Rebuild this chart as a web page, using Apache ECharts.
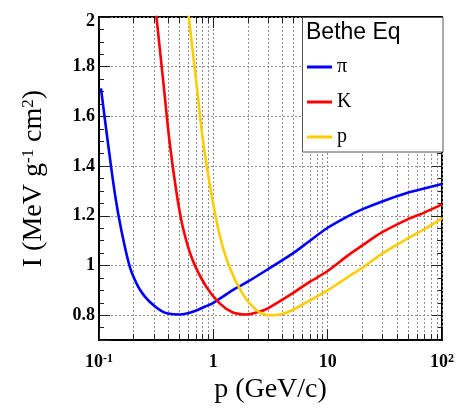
<!DOCTYPE html>
<html>
<head>
<meta charset="utf-8">
<script src="https://cdn.jsdelivr.net/npm/echarts@6/dist/echarts.min.js"></script>
<style>
  html, body { margin: 0; padding: 0; background: #fff; }
  #chart { width: 457px; height: 409px; }
</style>
</head>
<body>
<div id="chart"></div>
<script>
// Mean energy loss I (MeV g^-1 cm^2) versus momentum p (GeV/c)
const pionP = [0.104, 0.12, 0.138, 0.157, 0.186, 0.22, 0.25, 0.3, 0.35, 0.4, 0.5, 0.6, 0.7, 0.85, 1, 1.5, 2, 3, 5, 7, 10, 15, 20, 30, 50, 70, 100];
const pionI = [1.713, 1.49, 1.286, 1.141, 0.995, 0.915, 0.877, 0.84, 0.818, 0.807, 0.803, 0.808, 0.818, 0.835, 0.85, 0.903, 0.935, 0.985, 1.05, 1.10, 1.152, 1.198, 1.226, 1.258, 1.293, 1.31, 1.328];

const kaonP = [0.3, 0.318, 0.362, 0.414, 0.474, 0.541, 0.66, 0.866, 1.13, 1.47, 1.93, 2.5, 3, 5, 7, 10, 15, 20, 30, 50, 70, 100];
const kaonI = [2.11, 2.0, 1.755, 1.499, 1.30, 1.154, 1.021, 0.915, 0.849, 0.812, 0.803, 0.814, 0.828, 0.89, 0.935, 0.978, 1.04, 1.08, 1.134, 1.186, 1.213, 1.246];

const protonP = [0.58, 0.61, 0.707, 0.808, 0.952, 1.13, 1.38, 1.79, 2.35, 3.07, 4, 5, 7, 10, 15, 20, 30, 50, 70, 100];
const protonI = [2.09, 2.0, 1.745, 1.51, 1.30, 1.127, 0.995, 0.889, 0.823, 0.80, 0.805, 0.822, 0.86, 0.9, 0.954, 0.99, 1.048, 1.109, 1.146, 1.19];

const seriesNames = ['π', 'K', 'p'];

// Axis ranges and tick labels
const xMin = 0.1, xMax = 100;
const yMin = 0.7, yMax = 2.0;
const xMajorTicks = [0.1, 1, 10, 100];
const xMajorText = ['10{sup|-1}', '1', '10', '10{sup|2}'];
const xMinorTicks = [0.2, 0.3, 0.4, 0.5, 0.6, 0.7, 0.8, 0.9, 2, 3, 4, 5, 6, 7, 8, 9, 20, 30, 40, 50, 60, 70, 80, 90];
const yMajorTicks = [0.8, 1, 1.2, 1.4, 1.6, 1.8, 2];
const yMajorText = ['0.8', '1', '1.2', '1.4', '1.6', '1.8', '{top|2}'];

const serif = "'Liberation Serif', 'Times New Roman', serif";
const sans = "'Liberation Sans', Arial, Helvetica, sans-serif";
const gridDash = { type: [2, 2], color: '#8c8c8c', width: 1 };

function pairs(xs, ys) { return xs.map((x, i) => [x, ys[i]]); }

function xLabel(v) {
  const i = xMajorTicks.findIndex(t => Math.abs(Math.log10(t) - Math.log10(v)) < 1e-6);
  return i < 0 ? '' : xMajorText[i];
}
function yLabel(v) {
  const i = yMajorTicks.findIndex(t => Math.abs(t - v) < 1e-6);
  return i < 0 ? '' : yMajorText[i];
}

const tickFont = { fontFamily: serif, fontWeight: 'bold', fontSize: 18, color: '#000' };

function makeYAxis(position, major) {
  return {
    type: 'value', min: yMin, max: yMax, position: position,
    splitNumber: major ? 6 : undefined,
    interval: major ? undefined : 0.05,
    axisLine: { show: false },
    axisTick: { show: true, inside: true, length: major ? 11 : 5, lineStyle: { color: '#222', width: 1 } },
    axisLabel: { show: false },
    splitLine: { show: false }
  };
}

const chart = echarts.init(document.getElementById('chart'), null, { renderer: 'canvas' });

const leftMajor = makeYAxis('left', true);
leftMajor.axisLine = { show: true, lineStyle: { color: '#000', width: 2 } };
leftMajor.splitLine = { show: true, lineStyle: gridDash };
leftMajor.axisLabel = Object.assign({ show: true, margin: 4, formatter: yLabel,
  rich: { top: Object.assign({ padding: [8, 0, 0, 0] }, tickFont) } }, tickFont);
leftMajor.name = 'I (MeV g{sup|-1} cm{sup|2})';
leftMajor.nameLocation = 'middle';
leftMajor.nameRotate = 90;
leftMajor.nameGap = 51;
leftMajor.nameTextStyle = {
  fontFamily: serif, fontSize: 28, color: '#000',
  rich: { sup: { fontFamily: serif, fontSize: 17, color: '#000', verticalAlign: 'top' } }
};

chart.setOption({
  animation: false,
  backgroundColor: '#fff',
  grid: { left: 99, top: 17, right: 13, bottom: 64, show: true, borderColor: '#000', borderWidth: 2 },
  title: {
    text: 'Bethe Eq', left: 306, top: 21, padding: 0, z: 12,
    textStyle: { fontFamily: sans, fontSize: 23, fontWeight: 'normal', color: '#000' }
  },
  legend: {
    data: seriesNames, orient: 'vertical', left: 307, top: 57, padding: 0,
    icon: 'rect', itemWidth: 25, itemHeight: 3, itemGap: 15, selectedMode: false, z: 12,
    textStyle: { fontFamily: serif, fontSize: 20, color: '#000' }
  },
  graphic: [{
    type: 'rect', z: 8, silent: true,
    shape: { x: 302.5, y: 17.5, width: 140.5, height: 134.5 },
    style: { fill: '#fff', stroke: '#555', lineWidth: 1 }
  }],
  xAxis: [{
    type: 'log', logBase: 10, min: xMin, max: xMax, position: 'bottom',
    axisLine: { show: true, lineStyle: { color: '#000', width: 2 } },
    axisTick: { show: true, inside: true, length: 11, lineStyle: { color: '#222', width: 1 } },
    axisLabel: Object.assign({ margin: 13, formatter: xLabel,
      rich: { sup: { fontFamily: serif, fontWeight: 'bold', fontSize: 12, color: '#000', verticalAlign: 'top' } } }, tickFont),
    splitLine: { show: true, lineStyle: gridDash },
    name: 'p (GeV/c)', nameLocation: 'middle', nameGap: 33,
    nameTextStyle: { fontFamily: serif, fontSize: 28, color: '#000' }
  }, {
    type: 'log', logBase: 10, min: xMin, max: xMax, position: 'top',
    axisLine: { show: false },
    axisTick: { show: true, inside: true, length: 11, lineStyle: { color: '#222', width: 1 } },
    axisLabel: { show: false },
    splitLine: { show: false }
  }],
  yAxis: [leftMajor, makeYAxis('left', false), makeYAxis('right', true), makeYAxis('right', false)],
  series: [
    {
      // minor decade grid lines with their bottom and top ticks
      type: 'custom', xAxisIndex: 0, yAxisIndex: 0, silent: true, z: 1, clip: false,
      data: xMinorTicks.map(v => [v, yMin]),
      encode: { x: 0, y: 1 },
      renderItem: function (params, api) {
        const p = api.value(0);
        const b = api.coord([p, yMin]);
        const t = api.coord([p, yMax]);
        const x = Math.round(b[0]) + 0.5;
        return {
          type: 'group',
          children: [
            { type: 'line', shape: { x1: x, y1: b[1], x2: x, y2: t[1] }, style: { stroke: '#8c8c8c', lineWidth: 1, lineDash: [2, 2] } },
            { type: 'line', shape: { x1: x, y1: b[1], x2: x, y2: b[1] - 6 }, style: { stroke: '#222', lineWidth: 1 } },
            { type: 'line', shape: { x1: x, y1: t[1], x2: x, y2: t[1] + 6 }, style: { stroke: '#222', lineWidth: 1 } }
          ]
        };
      }
    },
    {
      name: seriesNames[0], type: 'line', data: pairs(pionP, pionI), symbol: 'none', smooth: 0.3, z: 3,
      lineStyle: { color: '#0000ff', width: 2.6 }, itemStyle: { color: '#0000ff' }
    },
    {
      name: seriesNames[1], type: 'line', data: pairs(kaonP, kaonI), symbol: 'none', smooth: 0.3, z: 3,
      lineStyle: { color: '#ff0000', width: 2.6 }, itemStyle: { color: '#ff0000' }
    },
    {
      name: seriesNames[2], type: 'line', data: pairs(protonP, protonI), symbol: 'none', smooth: 0.3, z: 3,
      lineStyle: { color: '#ffcc00', width: 2.6 }, itemStyle: { color: '#ffcc00' }
    }
  ]
});
</script>
</body>
</html>
